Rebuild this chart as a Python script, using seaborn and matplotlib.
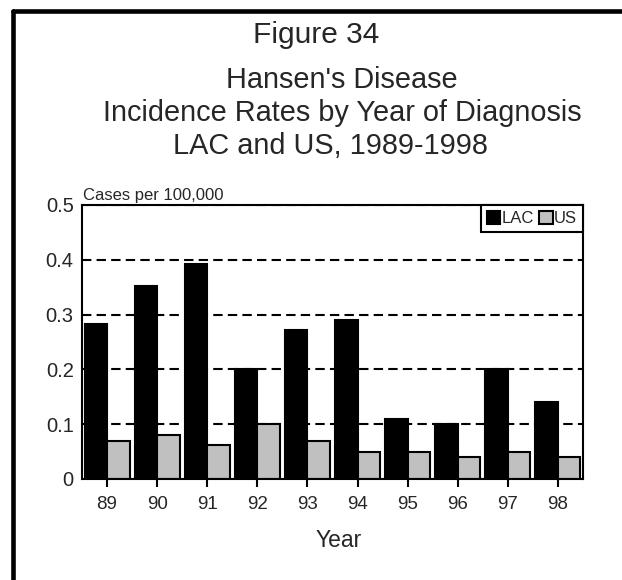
import pandas as pd
import matplotlib.pyplot as plt
import seaborn as sns
from matplotlib.lines import Line2D


years = ["89", "90", "91", "92", "93", "94", "95", "96", "97", "98"]
lac_rates = [0.283, 0.352, 0.392, 0.200, 0.272, 0.290, 0.110, 0.100, 0.200, 0.140]
us_rates = [0.070, 0.080, 0.062, 0.100, 0.070, 0.050, 0.050, 0.040, 0.050, 0.040]
y_ticks = [0, 0.1, 0.2, 0.3, 0.4, 0.5]
y_tick_labels = ["0", "0.1", "0.2", "0.3", "0.4", "0.5"]

sns.set_style("white")
plt.rcParams['font.family'] = ['Liberation Sans', 'DejaVu Sans']
plt.rcParams['axes.edgecolor'] = 'black'
plt.rcParams['axes.linewidth'] = 1.5


def build_frame():
    df = pd.DataFrame({"Year": years, "LAC": lac_rates, "US": us_rates})
    return df.melt(id_vars="Year", var_name="Area", value_name="Rate")


def plot_rates(df):
    fig = plt.figure(figsize=(6.22, 5.8), dpi=100)
    ax = fig.add_axes([82 / 622, 101 / 580, 501 / 622, 274 / 580])

    sns.barplot(data=df, x="Year", y="Rate", hue="Area", hue_order=["LAC", "US"],
                palette={"LAC": "black", "US": "#c0c0c0"}, edgecolor="black",
                linewidth=1.5, width=0.9, gap=0, ax=ax)

    ax.set_ylim(0, 0.5)
    ax.set_yticks(y_ticks)
    ax.set_yticklabels(y_tick_labels)
    ax.yaxis.grid(True, color="black", linestyle=(0, (4.5, 2.5)), linewidth=1.5)
    ax.set_axisbelow(True)
    for side in ["left", "right", "top", "bottom"]:
        ax.spines[side].set_visible(True)
        ax.spines[side].set_color("black")
        ax.spines[side].set_linewidth(1.5)

    ax.tick_params(axis="y", length=0, pad=6, labelsize=14.5)
    ax.tick_params(axis="x", direction="out", length=6, width=1.5,
                   color="black", pad=6, labelsize=13.5)
    ax.xaxis.set_ticks_position("bottom")
    ax.set_xlabel("Year", fontsize=16.5)
    ax.xaxis.set_label_coords(0.513, -0.225)
    ax.xaxis.label.set_va("center")
    ax.set_ylabel("")
    ax.text(0.002, 1.018, "Cases per 100,000", transform=ax.transAxes,
            fontsize=12, ha="left", va="baseline")

    ax.legend(loc="upper right", ncol=2, frameon=True, fancybox=False,
              edgecolor="black", borderaxespad=0, fontsize=12,
              handlelength=0.8, handleheight=0.8, handletextpad=0.1,
              columnspacing=0.3, borderpad=0.35, framealpha=1)
    ax.get_legend().get_frame().set_linewidth(1.5)

    fig.text(316 / 622, 1 - 43 / 580, "Figure 34", ha="center", va="baseline",
             fontsize=21.5)
    fig.text(342 / 622, 1 - 88 / 580, "Hansen's Disease", ha="center",
             va="baseline", fontsize=20.8)
    fig.text(342 / 622, 1 - 121 / 580, "Incidence Rates by Year of Diagnosis",
             ha="center", va="baseline", fontsize=20.8)
    fig.text(330 / 622, 1 - 154 / 580, "LAC and US, 1989-1998", ha="center",
             va="baseline", fontsize=20.8)

    # outer frame, top and left edges only
    fig.add_artist(Line2D([12.5 / 622, 1.0], [1 - 10.5 / 580, 1 - 10.5 / 580],
                          transform=fig.transFigure, color="black", linewidth=3.3))
    fig.add_artist(Line2D([12.5 / 622, 12.5 / 622], [0, 1 - 10.5 / 580],
                          transform=fig.transFigure, color="black", linewidth=3.3))

    fig.savefig("out.png", dpi=100)


def main():
    df = build_frame()
    plot_rates(df)


if __name__ == "__main__":
    main()
